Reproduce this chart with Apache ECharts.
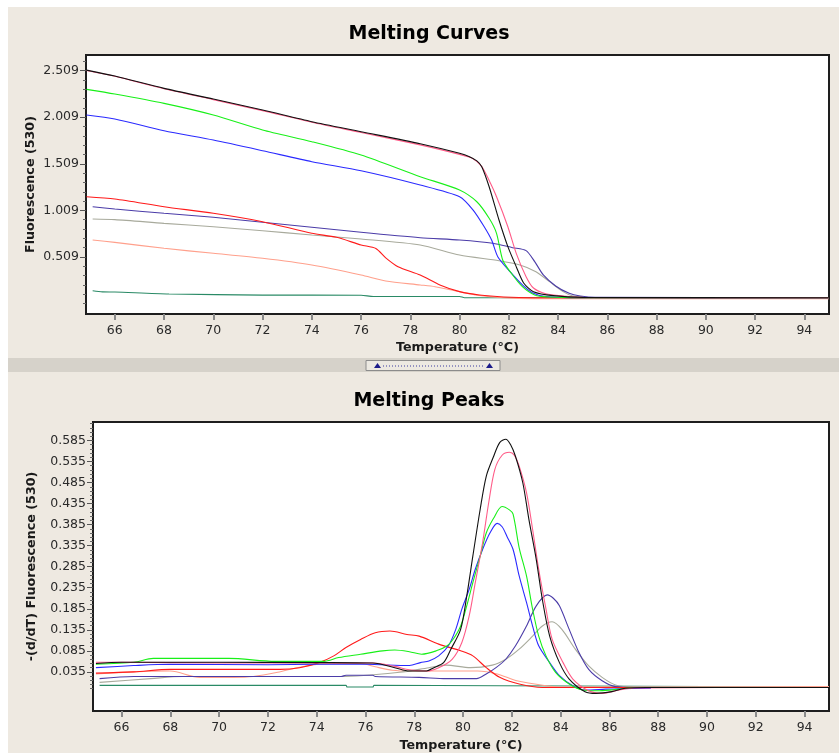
<!DOCTYPE html>
<html>
<head>
<meta charset="utf-8">
<script src="https://cdn.jsdelivr.net/npm/echarts@6/dist/echarts.min.js"></script>
<style>
  html, body { margin: 0; padding: 0; background: #ffffff; }
  #chart { width: 839px; height: 753px; }
</style>
</head>
<body>
<div id="chart"></div>
<script>
// ---- Axis labels / ticks ----
const tempTicks = [66, 68, 70, 72, 74, 76, 78, 80, 82, 84, 86, 88, 90, 92, 94];
const curveTicks = [0.509, 1.009, 1.509, 2.009, 2.509];
const peakTicks = [0.035, 0.085, 0.135, 0.185, 0.235, 0.285, 0.335, 0.385, 0.435, 0.485, 0.535, 0.585];

// ---- Melting curves: [temperature, fluorescence] ----
const curveTeal = [[65.1,0.147],[65.5,0.135],[66,0.133],[68.2,0.112],[72,0.1],[76,0.098],[76.5,0.085],[80,0.085],[80.2,0.072],[95,0.072]];
const curveSalmon = [[65.1,0.691],[66,0.666],[68,0.602],[70,0.549],[72,0.495],[74,0.423],[76,0.316],[77,0.251],[78.4,0.209],[79,0.19],[80,0.137],[80.7,0.1],[81.8,0.072],[83,0.062],[95,0.06]];
const curveGray = [[65.1,0.917],[66,0.91],[68,0.87],[70,0.834],[72,0.79],[74,0.745],[76,0.702],[78.4,0.638],[80,0.53],[81.6,0.469],[82.45,0.423],[83.1,0.351],[83.65,0.244],[84.2,0.137],[84.6,0.09],[85.2,0.075],[95,0.072]];
const curveNavy = [[65.1,1.049],[66,1.024],[68,0.978],[70,0.935],[72,0.881],[74,0.828],[76,0.774],[78.4,0.716],[80,0.691],[81.35,0.656],[82.15,0.609],[82.7,0.577],[83.05,0.459],[83.4,0.316],[83.9,0.198],[84.45,0.119],[84.9,0.09],[85.5,0.075],[95,0.072]];
const curveRed = [[64.85,1.156],[66,1.131],[68,1.049],[70,0.978],[72,0.888],[74,0.763],[75,0.72],[76,0.638],[76.6,0.6],[77,0.5],[77.5,0.405],[78.4,0.316],[79.2,0.209],[80,0.137],[80.8,0.101],[81.8,0.08],[83,0.072],[95,0.072]];
const curveBlue = [[64.85,2.033],[66,1.99],[68,1.864],[70,1.764],[72,1.65],[74,1.532],[76,1.435],[78.4,1.282],[80,1.156],[80.55,1.013],[81,0.834],[81.3,0.691],[81.55,0.512],[82.05,0.351],[82.55,0.209],[82.95,0.126],[83.5,0.085],[85,0.072],[95,0.072]];
const curveGreen = [[64.85,2.308],[66,2.258],[68,2.158],[70,2.033],[72,1.872],[74,1.746],[76,1.603],[78.4,1.371],[80,1.228],[80.7,1.102],[81.2,0.924],[81.5,0.763],[81.75,0.477],[82.1,0.334],[82.55,0.19],[83.05,0.101],[83.6,0.08],[85,0.072],[95,0.072]];
const curvePink = [[64.85,2.51],[66,2.448],[68,2.315],[70,2.198],[72,2.08],[74,1.955],[76,1.845],[78.4,1.712],[80,1.61],[80.5,1.57],[80.9,1.48],[81.2,1.33],[81.5,1.156],[81.96,0.834],[82.3,0.548],[82.7,0.298],[83,0.176],[83.5,0.115],[84.2,0.09],[85,0.075],[95,0.072]];
const curveBlack = [[64.85,2.515],[66,2.451],[68,2.319],[70,2.204],[72,2.086],[74,1.961],[76,1.854],[78.4,1.725],[80,1.622],[80.4,1.585],[80.7,1.54],[80.9,1.478],[81.2,1.263],[81.6,0.906],[81.96,0.62],[82.3,0.405],[82.6,0.23],[83,0.137],[83.8,0.094],[85,0.075],[95,0.072]];

// ---- Melting peaks: [temperature, -(d/dT) fluorescence] ----
const peakTeal = [[65.1,0.003],[75.2,0.003],[75.25,-0.001],[76.3,-0.001],[76.35,0.003],[81.5,0.002],[95,-0.001]];
const peakSalmon = [[64.95,0.03],[66.5,0.035],[68,0.037],[69.2,0.022],[70.6,0.022],[71.4,0.024],[72.4,0.034],[73.2,0.045],[74.1,0.053],[75,0.055],[75.8,0.055],[76.4,0.047],[77.1,0.039],[77.8,0.037],[80.6,0.037],[81.4,0.03],[82.2,0.014],[83.4,0.002],[84,-0.001],[95,0.0]];
const peakGray = [[65.1,0.01],[67.2,0.019],[68.5,0.024],[75,0.024],[77.4,0.034],[78.6,0.045],[79.3,0.051],[80.3,0.045],[81.2,0.051],[81.75,0.065],[82.3,0.089],[82.85,0.12],[83.25,0.144],[83.65,0.154],[84.05,0.136],[84.6,0.089],[85.15,0.049],[85.7,0.022],[86.25,0.004],[87,-0.001],[95,-0.002]];
const peakNavy = [[65.1,0.019],[66.5,0.024],[75,0.024],[75.2,0.027],[76.3,0.027],[76.4,0.024],[78.2,0.022],[79.3,0.019],[80.55,0.019],[80.95,0.03],[81.35,0.045],[81.75,0.065],[82.15,0.097],[82.6,0.144],[83,0.192],[83.45,0.218],[83.7,0.21],[83.95,0.192],[84.35,0.136],[84.75,0.081],[85.15,0.041],[85.7,0.014],[86.25,0.0],[87,-0.002],[95,-0.002]];
const peakRed = [[64.95,0.032],[66.5,0.035],[68,0.041],[72.5,0.041],[73.3,0.045],[74.1,0.057],[74.7,0.073],[75.2,0.093],[75.8,0.112],[76.4,0.128],[77,0.132],[77.7,0.124],[78.2,0.12],[79,0.101],[79.9,0.085],[80.4,0.073],[80.95,0.045],[81.5,0.022],[82.3,0.006],[83.25,-0.002],[95,-0.002]];
const peakBlue = [[64.95,0.045],[66.5,0.05],[68,0.053],[72,0.052],[74,0.053],[76,0.053],[77.8,0.05],[78.25,0.057],[78.6,0.061],[79,0.073],[79.4,0.097],[79.7,0.136],[79.95,0.184],[80.25,0.231],[80.5,0.279],[80.8,0.326],[81.1,0.365],[81.4,0.388],[81.6,0.38],[81.8,0.357],[82.05,0.326],[82.3,0.263],[82.6,0.2],[82.85,0.144],[83.1,0.097],[83.55,0.057],[83.95,0.026],[84.5,0.002],[85,-0.008],[85.85,-0.006],[86.4,-0.005],[87.7,-0.004]];
const peakGreen = [[64.95,0.053],[66.5,0.058],[67.3,0.067],[70.4,0.067],[72.3,0.06],[74.3,0.06],[74.9,0.069],[75.8,0.077],[76.7,0.085],[77.2,0.087],[77.8,0.083],[78.3,0.077],[78.9,0.085],[79.35,0.097],[79.6,0.113],[79.9,0.144],[80.15,0.192],[80.4,0.247],[80.7,0.31],[80.95,0.365],[81.25,0.4],[81.6,0.428],[81.9,0.42],[82.05,0.41],[82.3,0.33],[82.6,0.263],[82.85,0.184],[83.1,0.12],[83.4,0.073],[83.8,0.033],[84.35,0.006],[84.9,-0.008],[85.6,-0.01],[86.4,-0.006],[87,-0.002],[95,-0.002]];
const peakPink = [[64.95,0.058],[66,0.058],[70,0.056],[74,0.056],[76.3,0.056],[77.2,0.048],[77.8,0.04],[78.5,0.037],[79,0.045],[79.55,0.065],[79.95,0.105],[80.25,0.168],[80.5,0.247],[80.8,0.342],[81.05,0.437],[81.3,0.516],[81.6,0.55],[81.9,0.557],[82.1,0.55],[82.3,0.524],[82.6,0.461],[82.85,0.374],[83.1,0.279],[83.4,0.184],[83.65,0.113],[84.1,0.057],[84.5,0.018],[85.15,-0.01],[85.7,-0.016],[86.4,-0.008],[87,-0.003],[95,-0.002]];
const peakBlack = [[64.95,0.055],[66,0.058],[70,0.058],[74,0.057],[76.3,0.056],[77.2,0.045],[77.8,0.037],[78.5,0.037],[78.8,0.045],[79.2,0.057],[79.5,0.089],[79.9,0.136],[80.15,0.215],[80.4,0.31],[80.7,0.421],[80.95,0.5],[81.25,0.547],[81.5,0.58],[81.75,0.588],[81.95,0.575],[82.15,0.547],[82.45,0.484],[82.7,0.397],[83,0.302],[83.25,0.207],[83.55,0.12],[83.95,0.057],[84.35,0.018],[85,-0.012],[85.45,-0.016],[86.1,-0.012],[86.65,-0.004],[87.5,-0.002],[95,-0.002]];

// ---- Styling ----
const COLORS = {
  teal: '#2a8a66', salmon: '#ffa08c', gray: '#a8aa9c', navy: '#4b3ca8', red: '#ff1a1a',
  blue: '#2a2aff', green: '#18f018', pink: '#ff5c88', black: '#111111'
};
const BG = '#eee9e1';
const FRAME = '#1e1e1e';
const LABEL_FONT = { fontFamily: 'DejaVu Sans', fontSize: 12.5, color: '#2a2a2a' };
const NAME_FONT = { fontFamily: 'DejaVu Sans', fontSize: 12.7, fontWeight: 'bold', color: '#1a1a1a' };

function range(a, b, step, dec) {
  const out = [];
  for (let v = a; v <= b + 1e-9; v += step) out.push(+v.toFixed(dec));
  return out;
}
const curveMinor = range(0.009, 2.609, 0.1, 3).filter(v => !curveTicks.includes(v));
const peakMinor = range(-0.005, 0.625, 0.01, 3).filter(v => !peakTicks.includes(v));

const X_MIN = 64.83, X_MAX = 95;

// Temperature axis carrying the labels and the axis title
function xAxis(gridIndex, gap) {
  return {
    type: 'value', gridIndex, min: X_MIN, max: X_MAX, position: 'bottom',
    name: 'Temperature (°C)', nameLocation: 'middle', nameGap: gap, nameMoveOverlap: false,
    nameTextStyle: NAME_FONT,
    axisLine: { show: true, onZero: false, lineStyle: { color: FRAME, width: 2 } },
    splitLine: { show: false },
    axisTick: { show: false },
    axisLabel: { customValues: tempTicks, margin: 10, ...LABEL_FONT }
  };
}
// Companion temperature axis on the same edge that only draws the tick marks
function xAxisTicks(gridIndex) {
  return {
    type: 'value', gridIndex, min: X_MIN, max: X_MAX, position: 'bottom', offset: 0,
    axisLine: { show: false, onZero: false },
    splitLine: { show: false },
    axisLabel: { show: false },
    axisTick: { show: true, customValues: tempTicks, length: 6, lineStyle: { color: '#8a8a8a', width: 2 } }
  };
}
function yAxisMajor(gridIndex, min, max, ticks, name, gap, dec) {
  return {
    type: 'value', gridIndex, min, max, position: 'left',
    name, nameLocation: 'middle', nameGap: gap, nameRotate: 90, nameMoveOverlap: false,
    nameTextStyle: NAME_FONT,
    axisLine: { show: true, onZero: false, lineStyle: { color: FRAME, width: 2 } },
    splitLine: { show: false },
    axisTick: { show: true, customValues: ticks, length: 6, lineStyle: { color: '#555555', width: 1 } },
    axisLabel: { customValues: ticks, margin: 7, formatter: v => v.toFixed(dec), ...LABEL_FONT }
  };
}
function yAxisMinor(gridIndex, min, max, ticks) {
  return {
    type: 'value', gridIndex, min, max, position: 'left',
    axisLine: { show: false, onZero: false }, splitLine: { show: false },
    axisLabel: { show: false },
    axisTick: { show: true, customValues: ticks, length: 3, lineStyle: { color: '#666666', width: 1 } }
  };
}

const order = ['teal', 'salmon', 'gray', 'navy', 'red', 'blue', 'green', 'pink', 'black'];
const curveData = { teal: curveTeal, salmon: curveSalmon, gray: curveGray, navy: curveNavy, red: curveRed, blue: curveBlue, green: curveGreen, pink: curvePink, black: curveBlack };
const peakData = { teal: peakTeal, salmon: peakSalmon, gray: peakGray, navy: peakNavy, red: peakRed, blue: peakBlue, green: peakGreen, pink: peakPink, black: peakBlack };

const series = [];
order.forEach(k => {
  series.push({ type: 'line', xAxisIndex: 0, yAxisIndex: 0, data: curveData[k], showSymbol: false, smooth: 0.25,
    lineStyle: { color: COLORS[k], width: 1.1 }, silent: true, animation: false });
});
order.forEach(k => {
  series.push({ type: 'line', xAxisIndex: 1, yAxisIndex: 2, data: peakData[k], showSymbol: false, smooth: 0.3,
    lineStyle: { color: COLORS[k], width: 1.1 }, silent: true, animation: false });
});

const chart = echarts.init(document.getElementById('chart'), null, { renderer: 'canvas' });
chart.setOption({
  backgroundColor: '#ffffff',
  animation: false,
  title: [
    { text: 'Melting Curves', left: 424, top: 20, textAlign: 'center',
      textStyle: { fontFamily: 'DejaVu Sans', fontWeight: 'bold', fontSize: 19, color: '#000' } },
    { text: 'Melting Peaks', left: 424, top: 387, textAlign: 'center',
      textStyle: { fontFamily: 'DejaVu Sans', fontWeight: 'bold', fontSize: 19, color: '#000' } }
  ],
  graphic: [
    { type: 'rect', z: -10, silent: true, shape: { x: 8, y: 7, width: 831, height: 746 }, style: { fill: BG } },
    { type: 'rect', z: -9, silent: true, shape: { x: 8, y: 358, width: 831, height: 14 }, style: { fill: '#d6d2ca' } },
    { type: 'rect', z: 1, silent: true, shape: { x: 366, y: 360.5, width: 134, height: 10 }, style: { fill: '#ece9e2', stroke: '#8c8c8c', lineWidth: 1 } },
    { type: 'line', z: 2, silent: true, shape: { x1: 383, y1: 366, x2: 484, y2: 366 }, style: { stroke: '#3a3aa0', lineWidth: 1, lineDash: [1, 2] } },
    { type: 'polygon', z: 2, silent: true, shape: { points: [[374, 368], [381, 368], [377.5, 363]] }, style: { fill: '#1c1c8a' } },
    { type: 'polygon', z: 2, silent: true, shape: { points: [[486, 368], [493, 368], [489.5, 363]] }, style: { fill: '#1c1c8a' } }
  ],
  grid: [
    { left: 86, top: 55, right: 10, bottom: 439, show: true, backgroundColor: '#ffffff', borderColor: FRAME, borderWidth: 2 },
    { left: 93, top: 422, right: 10, bottom: 41, show: true, backgroundColor: '#ffffff', borderColor: FRAME, borderWidth: 2 }
  ],
  xAxis: [xAxis(0, 27), xAxis(1, 28), xAxisTicks(0), xAxisTicks(1)],
  yAxis: [
    yAxisMajor(0, -0.103, 2.677, curveTicks, 'Fluorescence (530)', 49, 3),
    yAxisMinor(0, -0.103, 2.677, curveMinor),
    yAxisMajor(1, -0.058, 0.629, peakTicks, '-(d/dT) Fluorescence (530)', 55, 3),
    yAxisMinor(1, -0.058, 0.629, peakMinor)
  ],
  series
});
</script>
</body>
</html>
